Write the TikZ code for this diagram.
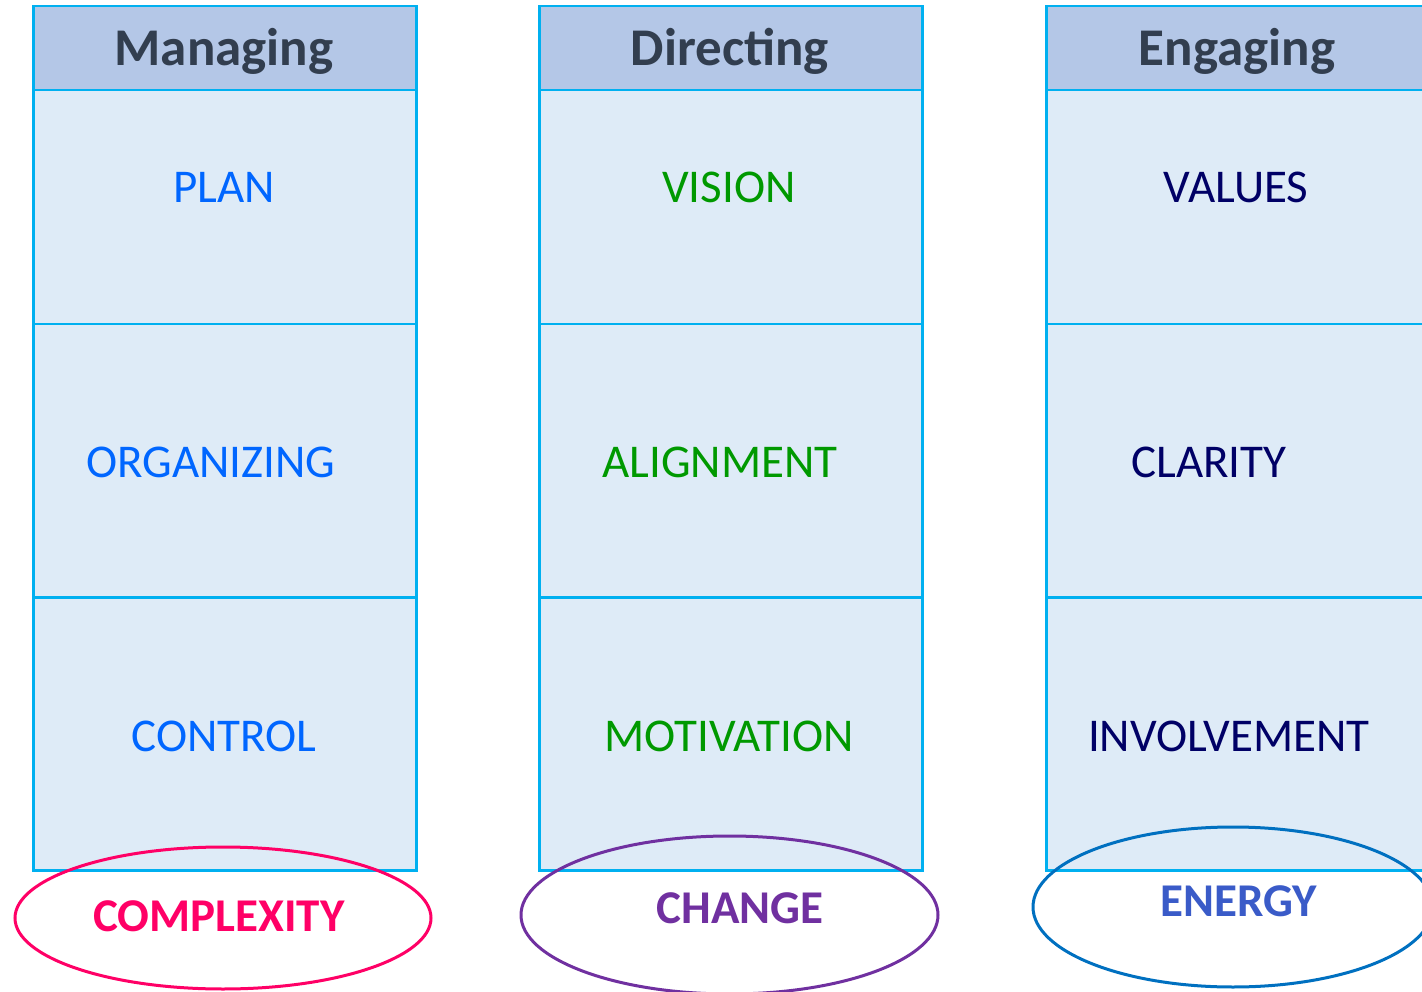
\documentclass[tikz,border=0pt]{standalone}
\usepackage{fontspec}
\setmainfont{Carlito}
\usetikzlibrary{shapes.geometric}
\definecolor{bordc}{HTML}{00B0F0}
\definecolor{headfill}{HTML}{B4C7E7}
\definecolor{bodyfill}{HTML}{DEEBF7}
\definecolor{headtxt}{HTML}{323E4F}
\definecolor{bluetxt}{HTML}{0066FF}
\definecolor{greentxt}{HTML}{009900}
\definecolor{navytxt}{HTML}{000066}
\definecolor{pinkc}{HTML}{FF0066}
\definecolor{purplec}{HTML}{7030A0}
\definecolor{ellblue}{HTML}{0070C0}
\definecolor{energytxt}{HTML}{3A5BC8}
\tikzset{
  headcell/.style={draw=bordc, line width=2.5pt, fill=headfill, anchor=north west, minimum width=383pt, minimum height=84pt, inner sep=0pt},
  bodycell/.style={draw=bordc, line width=2.5pt, fill=bodyfill, anchor=north west, minimum width=383pt, inner sep=0pt},
  headlabel/.style={anchor=base, text=headtxt, font=\fontsize{53}{60}\selectfont\bfseries, inner sep=0pt},
  itemlabel/.style={anchor=base, font=\fontsize{47}{56}\selectfont, inner sep=0pt},
  ovalshape/.style={ellipse, draw, line width=3pt, inner sep=0pt},
  ovallabel/.style={anchor=base, font=\fontsize{47}{56}\selectfont\bfseries, inner sep=0pt}
}
\begin{document}
\begin{tikzpicture}[x=1pt,y=-1pt]
\useasboundingbox (0,0) rectangle (1422,992);
% columns
\foreach \c/\xx in {a/32,b/538,c/1045}{
  \node[headcell] (\c h) at (\xx,5) {};
  \node[bodycell, minimum height=234pt] (\c 1) at (\xx,89) {};
  \node[bodycell, minimum height=273pt] (\c 2) at (\xx,323) {};
  \node[bodycell, minimum height=273pt] (\c 3) at (\xx,596) {};
}
% headers
\node[headlabel] (hA) at (224,66) {Managing};
\node[headlabel] (hB) at (730,66) {Directing};
\node[headlabel] (hC) at (1237,66) {Engaging};
% items
\node[itemlabel, text=bluetxt] (plan) at (224,203) {PLAN};
\node[itemlabel, text=bluetxt] (org) at (211,477) {ORGANIZING};
\node[itemlabel, text=bluetxt] (ctrl) at (224,751) {CONTROL};
\node[itemlabel, text=greentxt] (vis) at (729,203) {VISION};
\node[itemlabel, text=greentxt] (ali) at (720,477) {ALIGNMENT};
\node[itemlabel, text=greentxt] (mot) at (729,751) {MOTIVATION};
\node[itemlabel, text=navytxt] (val) at (1236,203) {VALUES};
\node[itemlabel, text=navytxt] (cla) at (1209,477) {CLARITY};
\node[itemlabel, text=navytxt] (inv) at (1229,751) {INVOLVEMENT};
% ovals
\node[ovalshape, draw=pinkc, minimum width=416pt, minimum height=142pt] (eA) at (223,918) {};
\node[ovalshape, draw=purplec, minimum width=417pt, minimum height=158pt] (eB) at (729.5,915) {};
\node[ovalshape, draw=ellblue, minimum width=400pt, minimum height=160pt] (eC) at (1233,907) {};
\node[ovallabel, text=pinkc] (cx) at (219,931) {COMPLEXITY};
\node[ovallabel, text=purplec] (ch) at (740,923) {CHANGE};
\node[ovallabel, text=energytxt, draw=none] (en) at (1239,916) {ENERGY};
\end{tikzpicture}
\end{document}
